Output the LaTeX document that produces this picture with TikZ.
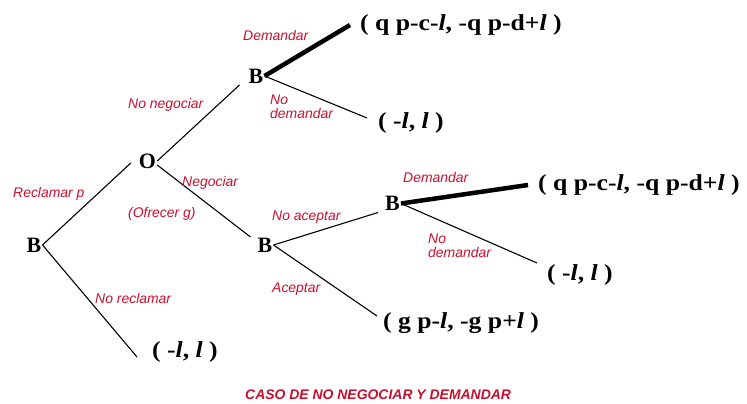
\documentclass[tikz,border=0pt]{standalone}
\usepackage{fontspec}
\usetikzlibrary{calc}
\newfontfamily\payfont[FakeStretch=1.12]{Liberation Serif}
\newfontfamily\nodefont{Liberation Serif}
\newfontfamily\labfont{Liberation Sans}
\definecolor{labred}{RGB}{200,16,46}
\begin{document}
\begin{tikzpicture}[x=1bp,y=-1bp,
  player/.style={font=\nodefont\fontsize{22}{22}\selectfont\bfseries, inner sep=1bp},
  pay/.style={font=\payfont\fontsize{23}{23}\selectfont\bfseries, anchor=west, inner sep=0pt},
  lab/.style={font=\labfont\fontsize{14}{14}\selectfont\itshape, text=labred, anchor=base west, inner sep=0pt, align=left},
  lab2/.style={lab, anchor=south west},
  caption/.style={font=\labfont\fontsize{14}{14}\selectfont\bfseries\itshape, text=labred, anchor=base west, inner sep=0pt},
  branch/.style={line width=1.1bp},
  chosen/.style={line width=4.5bp}]
\useasboundingbox (0,0) rectangle (747,403);

% players
\node[player] (root)   at (34,245)    {B};
\node[player] (O)      at (147.5,161) {O};
\node[player] (Btop)   at (256,76)    {B};
\node[player] (Bmid)   at (265,245)   {B};
\node[player] (Bright) at (392.5,203.5) {B};

% payoffs
\node[pay] (p1) at (360,25)  {( q p-c-\textit{l}, -q p-d+\textit{l} )};
\node[pay] (p2) at (378,123) {( -\textit{l}, \textit{l} )};
\node[pay] (p3) at (538,185) {( q p-c-\textit{l}, -q p-d+\textit{l} )};
\node[pay] (p4) at (547,275) {( -\textit{l}, \textit{l} )};
\node[pay] (p5) at (383,323) {( g p-\textit{l}, -g p+\textit{l} )};
\node[pay] (p6) at (152,352) {( -\textit{l}, \textit{l} )};

% branches
\draw[branch] (root.east) -- ($(O.west)+(-7,2)$);
\draw[branch] (O.east) -- ($(Btop.west)+(-8,9)$);
\draw[chosen] (Btop.east) -- ($(p1.west)+(-10,0)$);
\draw[branch] (Btop.east) -- ($(p2.west)+(-11,-5)$);
\draw[branch] ($(O.east)+(0,4)$) -- ($(Bmid.west)+(-6,-8)$);
\draw[branch] (Bmid.east) -- ($(Bright.west)+(-6,9)$);
\draw[chosen] (Bright.east) -- ($(p3.west)+(-10,0)$);
\draw[branch] (Bright.east) -- ($(p4.west)+(-10,-12)$);
\draw[branch] (Bmid.east) -- ($(p5.west)+(-6,-7)$);
\draw[branch] (root.east) -- ($(p6.west)+(-15,5)$);

% labels
\node[lab] (lRecl)  at (13,197)  {Reclamar p};
\node[lab] (lNoNeg) at (128,108) {No negociar};
\node[lab] (lNeg)   at (182,186) {Negociar};
\node[lab] (lOfr)   at (128,217) {(Ofrecer g)};
\node[lab] (lDem1)  at (243,40)  {Demandar};
\node[lab2] (lNoDem1) at (270,119) {No\\demandar};
\node[lab] (lNoAc)  at (272,220) {No aceptar};
\node[lab] (lAc)    at (272,292) {Aceptar};
\node[lab] (lDem2)  at (403,182) {Demandar};
\node[lab2] (lNoDem2) at (428,258) {No\\demandar};
\node[lab] (lNoRec) at (95,303)  {No reclamar};
\node[caption] (cap) at (245,399) {CASO DE NO NEGOCIAR Y DEMANDAR};
\end{tikzpicture}
\end{document}
